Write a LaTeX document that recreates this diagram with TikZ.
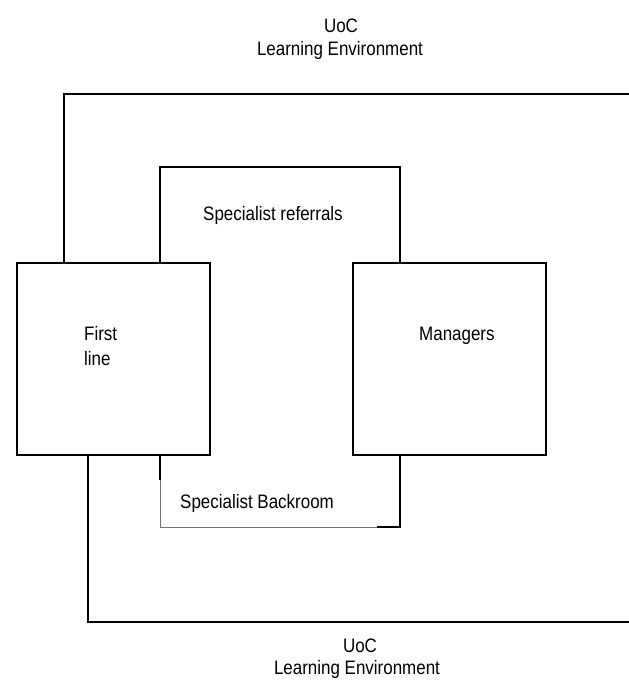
\documentclass[tikz,border=0pt]{standalone}
\usepackage{fontspec}
\setmainfont{Liberation Sans}[FakeStretch=0.87]
\begin{document}
\begin{tikzpicture}[x=1pt,y=-1pt,
  wire/.style={draw=black,line width=1.5pt},
  faint/.style={draw=black!55,line width=0.8pt},
  unit/.style={draw=black,line width=1.5pt,minimum width=193pt,minimum height=192pt,inner sep=0pt,anchor=north west},
  lbl/.style={inner sep=0pt,font=\fontsize{19.5}{23}\selectfont}]
\useasboundingbox (0,0) rectangle (629,680);

% the two units
\node[unit] (fl) at (16,262) {};
\node[unit] (mg) at (352,262) {};

% free ends of the enclosing lines
\coordinate (envTop) at (629,94);
\coordinate (envBot) at (629,622);
\coordinate (refTop) at (0,167);
\coordinate (backBot) at (0,527);
\coordinate (backMid) at (377,0);

% learning environment: upper and lower boundaries
\draw[wire] ([xshift=48]fl.north west) |- (envTop);
\draw[wire] ([xshift=72,yshift=2]fl.south west) |- (envBot);

% specialist referrals
\coordinate (refL) at ([xshift=144]fl.north west);
\coordinate (refR) at ([xshift=48]mg.north west);
\draw[wire] (refL) -- (refL |- refTop) -- (refR |- refTop) -- (refR);

% specialist backroom
\coordinate (backL) at ([xshift=144]fl.south west);
\coordinate (backR) at ([xshift=48]mg.south west);
\draw[wire] (backL) -- ([yshift=-24]backL);
\draw[faint] ([yshift=-24]backL) -- (backL |- backBot) -- (backMid |- backBot);
\draw[wire] (backR) -- (backR |- backBot) -- (backMid |- backBot);

% labels
\node[lbl,anchor=base] (envA1) at (341,32) {UoC};
\node[lbl,anchor=base] (envA2) at (340,55) {Learning Environment};
\node[lbl,anchor=base west] (ref) at (203,220) {Specialist referrals};
\node[lbl,anchor=base west] (fl1) at (84,340) {First};
\node[lbl,anchor=base west] (fl2) at (84,365) {line};
\node[lbl,anchor=base west] (mgt) at (419,340) {Managers};
\node[lbl,anchor=base west] (back) at (180,508) {Specialist Backroom};
\node[lbl,anchor=base] (envB1) at (360,652) {UoC};
\node[lbl,anchor=base] (envB2) at (357,674) {Learning Environment};
\end{tikzpicture}
\end{document}
